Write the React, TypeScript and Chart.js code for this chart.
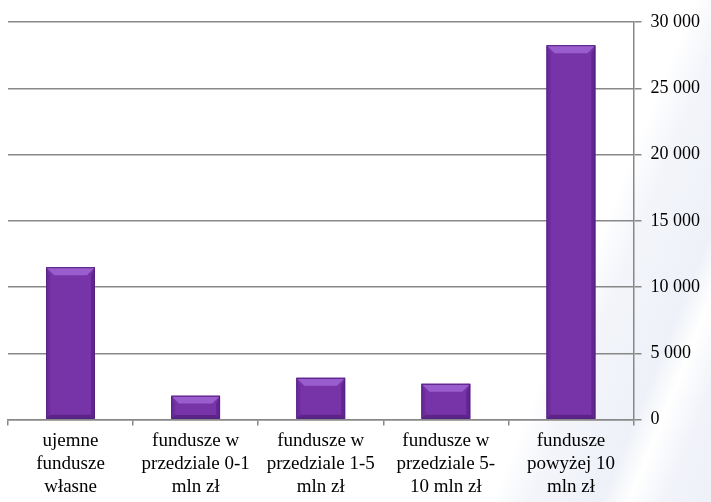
import React, { useEffect, useRef } from "react";
import { Chart, registerables } from "chart.js";

Chart.register(...registerables);

const categories: string[][] = [
  ["ujemne", "fundusze", "własne"],
  ["fundusze w", "przedziale 0-1", "mln zł"],
  ["fundusze w", "przedziale 1-5", "mln zł"],
  ["fundusze w", "przedziale 5-", "10 mln zł"],
  ["fundusze", "powyżej 10", "mln zł"],
];
const values: number[] = [11500, 1800, 3150, 2700, 28250];
const yMin = 0;
const yMax = 30000;
const yStep = 5000;

const fmt = (v: number) => String(v).replace(/\B(?=(\d{3})+(?!\d))/g, " ");
const SERIF = "'Liberation Serif', 'Times New Roman', serif";

const bevelPlugin = {
  id: "bevel",
  afterDatasetsDraw(chart: any) {
    const ctx = chart.ctx;
    const meta = chart.getDatasetMeta(0);
    meta.data.forEach((bar: any) => {
      const x0 = bar.x - bar.width / 2;
      const x1 = bar.x + bar.width / 2;
      const top = bar.y;
      const bot = bar.base;
      const h = bot - top;
      const b = Math.min(8, h / 3);
      ctx.save();
      ctx.fillStyle = "#9A5DCD";
      ctx.beginPath();
      ctx.moveTo(x0, top);
      ctx.lineTo(x1, top);
      ctx.lineTo(x1 - b, top + b);
      ctx.lineTo(x0 + b, top + b);
      ctx.closePath();
      ctx.fill();
      ctx.fillStyle = "#6C2C9C";
      ctx.beginPath();
      ctx.moveTo(x0, top);
      ctx.lineTo(x0 + b * 0.5, top + b);
      ctx.lineTo(x0 + b * 0.5, bot - b * 0.5);
      ctx.lineTo(x0, bot);
      ctx.closePath();
      ctx.fill();
      ctx.fillStyle = "#612692";
      ctx.beginPath();
      ctx.moveTo(x1, top);
      ctx.lineTo(x1 - b * 0.5, top + b);
      ctx.lineTo(x1 - b * 0.5, bot - b * 0.5);
      ctx.lineTo(x1, bot);
      ctx.closePath();
      ctx.fill();
      ctx.fillStyle = "#5C2489";
      ctx.beginPath();
      ctx.moveTo(x0, bot);
      ctx.lineTo(x0 + b * 0.5, bot - b * 0.5);
      ctx.lineTo(x1 - b * 0.5, bot - b * 0.5);
      ctx.lineTo(x1, bot);
      ctx.closePath();
      ctx.fill();
      ctx.strokeStyle = "#55207F";
      ctx.lineWidth = 1;
      ctx.strokeRect(x0 + 0.5, top + 0.5, x1 - x0 - 1, h - 1);
      ctx.restore();
    });
  },
};

export default function App() {
  const ref = useRef<HTMLCanvasElement>(null);
  useEffect(() => {
    document.body.style.margin = "0";
    const canvas = ref.current!;
    const chart = new Chart(canvas, {
      type: "bar",
      data: {
        labels: categories,
        datasets: [
          {
            data: values,
            backgroundColor: "#7734A9",
            borderWidth: 0,
            barPercentage: 0.39,
            categoryPercentage: 1,
          },
        ],
      },
      plugins: [bevelPlugin],
      options: {
        animation: false,
        responsive: false,
        maintainAspectRatio: false,
        layout: { padding: { left: 8, right: 2, top: 22, bottom: 0 } },
        plugins: { legend: { display: false }, tooltip: { enabled: false } },
        scales: {
          x: {
            grid: {
              display: true,
              drawOnChartArea: false,
              drawTicks: true,
              tickLength: 6,
              offset: true,
              color: "#888888",
              lineWidth: 1.5,
            },
            border: { display: true, color: "#888888", width: 1.5 },
            ticks: {
              color: "#000000",
              font: { family: SERIF, size: 19, lineHeight: 1.2 },
              maxRotation: 0,
              autoSkip: false,
              padding: 4,
            },
          },
          y: {
            position: "right",
            min: yMin,
            max: yMax,
            grid: {
              color: "#888888",
              lineWidth: 1.5,
              drawTicks: true,
              tickLength: 8,
            },
            border: { display: true, color: "#888888", width: 1.5 },
            ticks: {
              stepSize: yStep,
              color: "#000000",
              font: { family: SERIF, size: 18 },
              padding: 9,
              callback: (v: any) => fmt(Number(v)),
            },
          },
        },
      },
    });
    return () => chart.destroy();
  }, []);
  return (
    <div
      style={{
        width: 711,
        height: 502,
        background:
          "linear-gradient(112deg, #ffffff 0%, #ffffff 76%, #f3f5fa 80%, #eef1f8 88%, #ffffff 91%, #f1f3f9 95%, #eef1f8 100%)",
      }}
    >
      <canvas ref={ref} width={711} height={502} style={{ display: "block" }} />
    </div>
  );
}
